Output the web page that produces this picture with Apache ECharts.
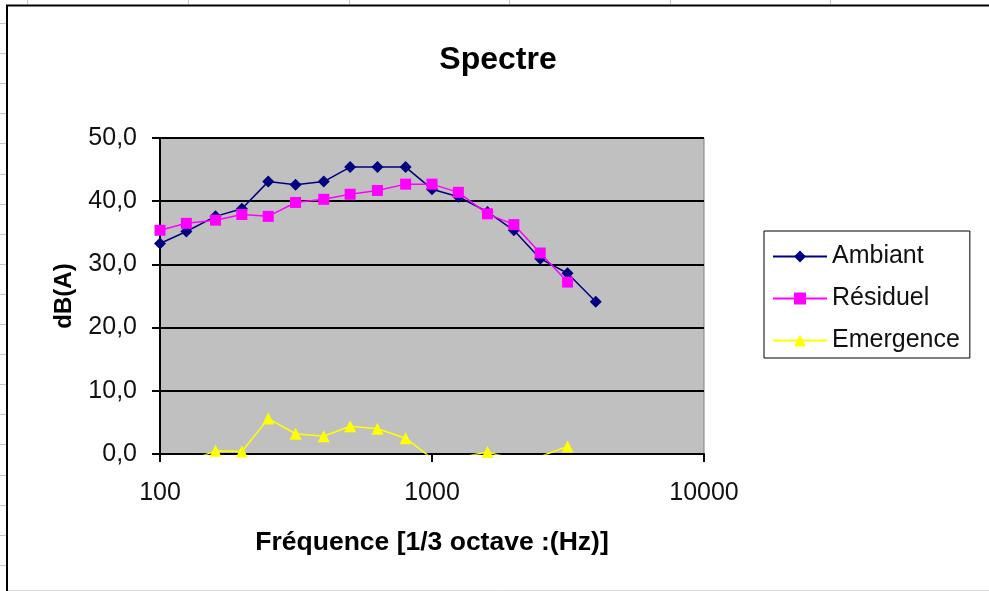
<!DOCTYPE html>
<html>
<head>
<meta charset="utf-8">
<script src="https://cdn.jsdelivr.net/npm/echarts@6/dist/echarts.min.js"></script>
<style>
html,body{margin:0;padding:0;background:#fff;}
#c{width:989px;height:591px;}
</style>
</head>
<body>
<div id="c"></div>
<script>
var frequencies = [100, 125, 160, 200, 250, 315, 400, 500, 630, 800, 1000, 1250, 1600, 2000, 2500, 3150, 4000];
var ambiant   = [33.3, 35.2, 37.6, 38.8, 43.1, 42.6, 43.1, 45.4, 45.4, 45.4, 41.9, 40.7, 38.3, 35.4, 30.9, 28.6, 24.1];
var residuel  = [35.4, 36.5, 37.0, 37.9, 37.6, 39.8, 40.3, 41.1, 41.7, 42.7, 42.7, 41.4, 38.0, 36.3, 31.8, 27.2, null];
var emergence = [-2.1, -1.3, 0.5, 0.4, 5.6, 3.2, 2.8, 4.4, 4.0, 2.5, -0.7, -0.6, 0.3, -0.8, -0.4, 1.2, null];
var yTicks = [0, 10, 20, 30, 40, 50];
var xTicks = [100, 1000, 10000];

function pairs(vals) {
  var out = [];
  for (var i = 0; i < frequencies.length; i++) {
    if (vals[i] !== null) out.push([frequencies[i], vals[i]]);
  }
  return out;
}

var chart = echarts.init(document.getElementById('c'), null, {renderer: 'canvas'});
var FONT = '"Liberation Sans", Arial, sans-serif';

var bgGraphics = [];
var colX = [27, 188, 349, 509, 670, 830];
colX.forEach(function (x) {
  bgGraphics.push({type: 'line', silent: true, z: -10,
    shape: {x1: x + 0.5, y1: 0, x2: x + 0.5, y2: 5},
    style: {stroke: '#c8c8c8', lineWidth: 1}});
});
for (var ry = 23; ry < 591; ry += 30.1) {
  bgGraphics.push({type: 'line', silent: true, z: -10,
    shape: {x1: 0, y1: Math.round(ry) + 0.5, x2: 6, y2: Math.round(ry) + 0.5},
    style: {stroke: '#c8c8c8', lineWidth: 1}});
}
bgGraphics.push({type: 'line', silent: true, z: -10,
  shape: {x1: 8, y1: 590.5, x2: 989, y2: 590.5},
  style: {stroke: '#d8d8d8', lineWidth: 1}});
bgGraphics.push({type: 'rect', silent: true, z: -5,
  shape: {x: 7, y: 5.5, width: 1000, height: 600},
  style: {fill: 'none', stroke: '#000', lineWidth: 2}});
bgGraphics.push({type: 'rect', silent: true, z: -1,
  shape: {x: 160, y: 138, width: 544, height: 316},
  style: {fill: '#C0C0C0', stroke: '#808080', lineWidth: 1}});

var option = {
  backgroundColor: '#ffffff',
  animation: false,
  graphic: bgGraphics,
  title: {
    text: 'Spectre',
    left: 493, top: 39, textAlign: 'center',
    textStyle: {fontFamily: FONT, fontSize: 32, fontWeight: 'bold', color: '#000'}
  },
  legend: {
    orient: 'vertical',
    left: 764, top: 231,
    padding: [13, 10, 5, 8],
    backgroundColor: '#ffffff',
    borderColor: '#000', borderWidth: 1,
    itemWidth: 54, itemHeight: 15, itemGap: 17,
    textStyle: {fontFamily: FONT, fontSize: 25, color: '#111'},
    data: ['Ambiant', 'Résiduel', 'Emergence']
  },
  grid: {left: 160, right: 285, top: 138, bottom: 137, containLabel: false},
  xAxis: {
    type: 'log', logBase: 10, min: 100, max: 10000,
    name: 'Fréquence [1/3 octave :(Hz)]',
    nameLocation: 'middle', nameGap: 75, nameMoveOverlap: false,
    nameTextStyle: {fontFamily: FONT, fontSize: 26.5, fontWeight: 'bold', color: '#000'},
    axisLine: {show: true, onZero: false, lineStyle: {color: '#000', width: 2}},
    axisTick: {show: true, inside: false, length: 8, lineStyle: {color: '#000', width: 2}},
    axisLabel: {fontFamily: FONT, fontSize: 25, color: '#111', margin: 27,
      formatter: function (v) { return xTicks.indexOf(Math.round(v)) >= 0 ? String(Math.round(v)) : ''; }},
    minorTick: {show: false},
    splitLine: {show: false}
  },
  yAxis: {
    type: 'value', min: 0, max: 50, interval: 10,
    name: 'dB(A)', nameLocation: 'middle', nameGap: 84, nameRotate: 90, nameMoveOverlap: false,
    nameTextStyle: {fontFamily: FONT, fontSize: 24, fontWeight: 'bold', color: '#000'},
    axisLine: {show: true, lineStyle: {color: '#000', width: 2}},
    axisTick: {show: true, inside: false, length: 8, lineStyle: {color: '#000', width: 2}},
    axisLabel: {fontFamily: FONT, fontSize: 25, color: '#111', margin: 23,
      formatter: function (v) { return yTicks.indexOf(v) >= 0 ? v.toFixed(1).replace('.', ',') : ''; }},
    splitLine: {show: true, lineStyle: {color: '#000', width: 2}}
  },
  series: [
    {
      name: 'Ambiant', type: 'line', data: pairs(ambiant),
      symbol: 'diamond', symbolSize: 12,
      lineStyle: {color: '#000080', width: 1.5},
      itemStyle: {color: '#000080'},
      z: 3
    },
    {
      name: 'Résiduel', type: 'line', data: pairs(residuel),
      symbol: 'rect', symbolSize: 11,
      lineStyle: {color: '#FF00FF', width: 1.5},
      itemStyle: {color: '#FF00FF'},
      z: 4
    },
    {
      name: 'Emergence', type: 'line', data: pairs(emergence),
      symbol: 'triangle', symbolSize: 12,
      lineStyle: {color: '#FFFF00', width: 1.5},
      itemStyle: {color: '#FFFF00'},
      z: 5
    }
  ]
};
chart.setOption(option);
</script>
</body>
</html>
